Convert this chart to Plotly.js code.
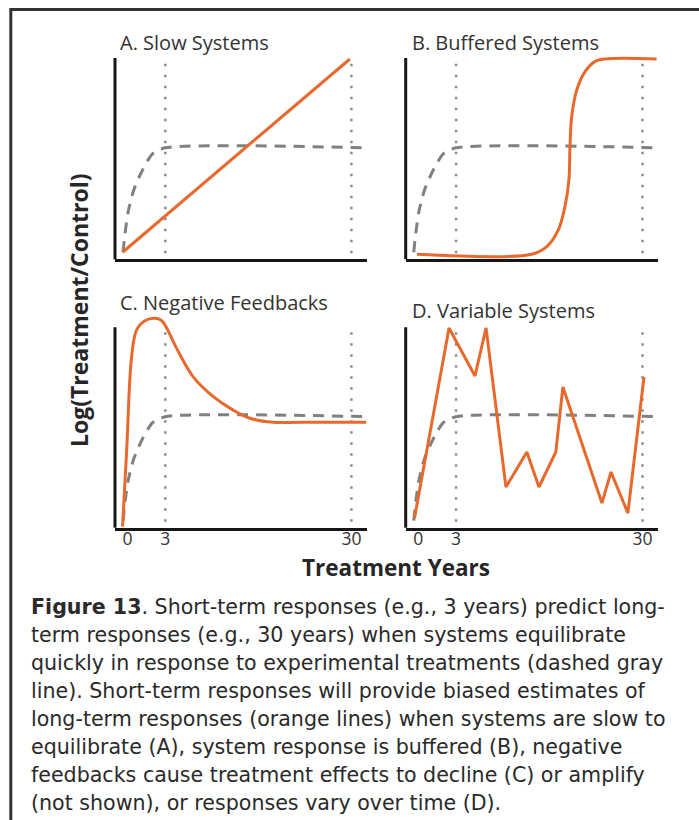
<!DOCTYPE html>
<html><head><meta charset="utf-8">
<script src="https://cdn.plot.ly/plotly-3.0.1.min.js"></script>
<style>html,body{margin:0;padding:0;background:#fff}#chart{width:699px;height:820px}</style>
</head><body><div id="chart"></div>
<script>
// Schematic time axis (units 0..100 across each panel); ticks mark years 0, 3 and 30
var tickPos = [5, 20, 94];
var tickText = ['0', '3', '30'];
var panelTitles = ['A. Slow Systems', 'B. Buffered Systems', 'C. Negative Feedbacks', 'D. Variable Systems'];

// Dashed gray: fast-equilibrating system
var equilX = [3.2, 4, 5.3, 7.5, 11, 15, 20, 100];
var equilY = [3.5, 13, 24, 34.5, 44.5, 52.5, 55.4, 55.4];

// A. Slow systems
var slowX = [3, 93.4];
var slowY = [3.5, 99.5];

// B. Buffered systems
var bufX = [4.5, 50, 56, 60.6, 63.2, 64.8, 65.2, 65.9, 67.9, 71.2, 75.1, 79.1, 99.6];
var bufY = [2.5, 2.5, 6.3, 14.6, 26.1, 39.4, 55.4, 70.8, 84.1, 93.2, 98.2, 99.5, 99.5];

// C. Negative feedbacks
var negX = [3, 4.65, 6.6, 8.6, 11.9, 15.9, 18.6, 20.6, 24.5, 31.1, 39.1, 47, 53.7, 62.9, 73.5, 100];
var negY = [0.5, 38.8, 85.3, 98.7, 103.3, 104.5, 103.3, 99.5, 89.5, 75.3, 65.4, 58.7, 54.6, 52.6, 52.6, 52.6];

// D. Variable systems
var varX = [3.5, 17.2, 27.5, 31.9, 39.8, 48.1, 52.9, 59.6, 62.4, 77.9, 81.5, 88.2, 94.6];
var varY = [4.8, 99.7, 75.7, 99.7, 20.3, 37.8, 20.3, 37.8, 70.2, 12.3, 27.8, 7.3, 75.2];

var yTitle = 'Log(Treatment/Control)';
var xTitle = 'Treatment Years';
var captionLines = [
  '<b>Figure 13</b>. Short-term responses (e.g., 3 years) predict long-',
  'term responses (e.g., 30 years) when systems equilibrate',
  'quickly in response to experimental treatments (dashed gray',
  'line). Short-term responses will provide biased estimates of',
  'long-term responses (orange lines) when systems are slow to',
  'equilibrate (A), system response is buffered (B), negative',
  'feedbacks cause treatment effects to decline (C) or amplify',
  '(not shown), or responses vary over time (D).'
];

var W = 699, H = 820;
function px(x) { return x / W; }
function py(y) { return 1 - y / H; }

var ORANGE = '#E8692D', GRAY = '#808080', DOT = '#8c8c8c', AXIS = '#161616';
var suffix = ['', '2', '3', '4'];
var orangeX = [slowX, bufX, negX, varX];
var orangeY = [slowY, bufY, negY, varY];
var orangeShape = ['linear', 'spline', 'spline', 'linear'];

var traces = [];
for (var i = 0; i < 4; i++) {
  traces.push({
    x: equilX, y: equilY, xaxis: 'x' + suffix[i], yaxis: 'y' + suffix[i],
    mode: 'lines', line: {color: GRAY, width: 3, dash: '11px,8px', shape: 'spline', smoothing: 0.7},
    hoverinfo: 'skip', showlegend: false
  });
  traces.push({
    x: orangeX[i], y: orangeY[i], xaxis: 'x' + suffix[i], yaxis: 'y' + suffix[i],
    mode: 'lines', line: {color: ORANGE, width: 3, shape: orangeShape[i], smoothing: 1},
    hoverinfo: 'skip', showlegend: false
  });
}

var xDomL = [px(115), px(366.5)], xDomR = [px(405.7), px(657.6)];
var yDomT = [py(259.3), py(45.9)], yDomB = [py(527.7), py(315.3)];
var xDoms = [xDomL, xDomR, xDomL, xDomR];
var yDoms = [yDomT, yDomT, yDomB, yDomB];

var layout = {
  width: W, height: H,
  margin: {l: 0, r: 0, t: 0, b: 0},
  paper_bgcolor: '#ffffff', plot_bgcolor: 'rgba(0,0,0,0)',
  showlegend: false,
  shapes: [], annotations: []
};

for (var j = 0; j < 4; j++) {
  var s = suffix[j];
  layout['xaxis' + s] = {
    domain: xDoms[j], range: [0, 100], anchor: 'y' + s,
    showgrid: false, zeroline: false, showline: true, linecolor: AXIS, linewidth: 3,
    ticks: '', showticklabels: j >= 2, tickmode: 'array', tickvals: tickPos, ticktext: tickText,
    ticklabelstandoff: -7,
    tickfont: {family: 'Open Sans', size: 17.5, color: '#333'}, fixedrange: true
  };
  layout['yaxis' + s] = {
    domain: yDoms[j], range: [0, 106], anchor: 'x' + s,
    showgrid: false, zeroline: false, showline: false, showticklabels: false, ticks: '', fixedrange: true
  };
  // y axis line (from 0 to the top of the schematic scale)
  layout.shapes.push({type: 'line', xref: 'x' + s + ' domain', yref: 'y' + s,
    x0: 0, x1: 0, y0: -0.8, y1: 100, line: {color: AXIS, width: 3}});
  // dotted markers at year 3 and year 30
  [tickPos[1], tickPos[2]].forEach(function (xv) {
    layout.shapes.push({type: 'line', xref: 'x' + s, yref: 'y' + s, layer: 'below',
      x0: xv, x1: xv, y0: 3, y1: 100, line: {color: DOT, width: 2.5, dash: '2.5px,8.5px'}});
  });
}

// outer frame
layout.shapes.push({type: 'rect', xref: 'paper', yref: 'paper',
  x0: px(10.8), x1: 1.2, y0: -0.2, y1: py(9.5), line: {color: '#333', width: 3}});

var titlePos = [[119, 42], [411, 42], [119, 302], [411, 310]];
panelTitles.forEach(function (t, k) {
  layout.annotations.push({text: t, xref: 'paper', yref: 'paper', x: px(titlePos[k][0]), y: py(titlePos[k][1]),
    xanchor: 'left', yanchor: 'middle', showarrow: false, borderpad: 0,
    font: {family: 'Open Sans', size: 20, color: '#333'}});
});

layout.annotations.push({text: '<b>' + yTitle + '</b>', xref: 'paper', yref: 'paper', x: px(79), y: py(310),
  xanchor: 'center', yanchor: 'middle', textangle: -90, showarrow: false,
  font: {family: 'Open Sans', size: 23, color: '#262626'}});
layout.annotations.push({text: '<b>' + xTitle + '</b>', xref: 'paper', yref: 'paper', x: px(396), y: py(567),
  xanchor: 'center', yanchor: 'middle', showarrow: false, borderpad: 0,
  font: {family: 'Open Sans', size: 22.5, color: '#262626'}});

captionLines.forEach(function (line, k) {
  layout.annotations.push({text: line, xref: 'paper', yref: 'paper', x: px(30), y: py(607 + 28 * k),
    xanchor: 'left', yanchor: 'middle', showarrow: false, borderpad: 0,
    font: {family: 'DejaVu Sans', size: 20.6, color: '#2a2a2a'}});
});

Plotly.newPlot('chart', traces, layout, {staticPlot: true, displayModeBar: false});
</script>
</body></html>
